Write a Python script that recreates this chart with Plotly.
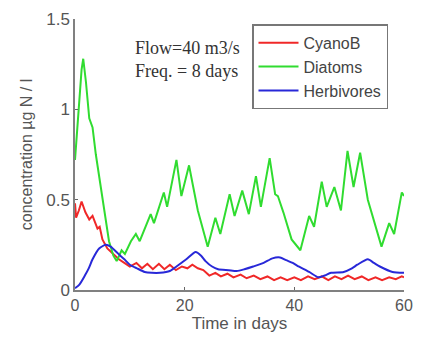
import plotly.graph_objects as go

# Diatoms (green)
t_diatoms = [0, 0.6, 1.2, 1.5, 2.0, 2.6, 3.2, 3.8, 4.4, 5.3, 6.2, 7.0, 7.6, 8.5, 9.1,
             10.2, 11.1, 11.8, 13.8, 14.4, 16.2, 16.8, 18.5, 19.4, 20.8, 21.5, 22.4,
             24.2, 25.6, 26.5, 28.2, 29.1, 30.5, 31.7, 33.0, 33.9, 35.5, 36.5, 37.0,
             38.0, 39.5, 41.1, 42.7, 43.6, 45.0, 45.9, 47.3, 48.5, 49.7, 50.8, 52.0,
             53.4, 54.5, 55.9, 57.3, 58.2, 59.6, 60]
v_diatoms = [0.72, 1.0, 1.22, 1.28, 1.15, 0.95, 0.9, 0.75, 0.63, 0.45, 0.27, 0.19, 0.16,
             0.22, 0.2, 0.27, 0.31, 0.27, 0.42, 0.37, 0.54, 0.46, 0.72, 0.52, 0.69, 0.58,
             0.44, 0.24, 0.40, 0.31, 0.53, 0.41, 0.55, 0.42, 0.63, 0.46, 0.73, 0.53, 0.52,
             0.43, 0.28, 0.22, 0.41, 0.35, 0.60, 0.46, 0.57, 0.44, 0.77, 0.57, 0.76, 0.5,
             0.38, 0.24, 0.37, 0.31, 0.54, 0.52]

# CyanoB (red)
t_cyano = [0, 0.2, 0.7, 1.2, 1.9, 2.6, 3.2, 4.1, 4.5, 5.0, 5.9, 7.0, 8.0, 9.0, 10.0,
           11.2, 12.2, 13.2, 14.2, 15.3, 16.3, 17.3, 18.4, 19.5, 20.5, 21.4, 22.4,
           23.4, 24.5, 25.6, 26.6, 27.8, 28.9, 30.2, 31.3, 32.6, 33.8, 35.1, 36.3,
           37.5, 38.7, 40.0, 41.2, 42.5, 43.7, 45.0, 46.2, 47.4, 48.6, 49.8, 51.0,
           52.3, 53.5, 54.8, 56.0, 57.3, 58.5, 59.6, 60]
v_cyano = [0.48, 0.40, 0.44, 0.49, 0.43, 0.39, 0.41, 0.34, 0.35, 0.28, 0.23, 0.2, 0.17,
           0.15, 0.13, 0.15, 0.12, 0.145, 0.115, 0.145, 0.115, 0.14, 0.11, 0.13, 0.12,
           0.14, 0.12, 0.11, 0.08, 0.095, 0.075, 0.09, 0.07, 0.085, 0.065, 0.08, 0.06,
           0.075, 0.055, 0.07, 0.055, 0.07, 0.055, 0.075, 0.06, 0.075, 0.055, 0.075,
           0.06, 0.08, 0.06, 0.075, 0.055, 0.07, 0.055, 0.07, 0.06, 0.075, 0.07]

# Herbivores (blue)
t_herb = [0, 0.8, 1.8, 2.5, 3.2, 4.4, 5.6, 6.5, 7.9, 9.0, 10.0, 11.3, 12.7, 14.0, 15.5,
          17.3, 18.5, 20.3, 22.0, 23.0, 23.8, 25.0, 26.1, 28.0, 29.5, 30.9, 32.5, 34.4,
          36.0, 37.4, 38.5, 39.7, 40.5, 42.7, 44.4, 45.5, 46.7, 49.0, 50.5, 51.5, 53.4,
          54.5, 55.6, 57.9, 60]
v_herb = [0.01, 0.03, 0.08, 0.12, 0.17, 0.23, 0.25, 0.24, 0.2, 0.17, 0.14, 0.12, 0.10,
          0.095, 0.095, 0.105, 0.13, 0.17, 0.21, 0.19, 0.16, 0.13, 0.115, 0.11, 0.105,
          0.115, 0.13, 0.15, 0.175, 0.18, 0.165, 0.15, 0.135, 0.10, 0.07, 0.08, 0.095,
          0.10, 0.12, 0.14, 0.17, 0.15, 0.13, 0.10, 0.095]

x_ticks = [0, 20, 40, 60]
y_ticks = [0, 0.5, 1, 1.5]
y_tick_text = ["0", "0.5", "1", "1.5"]

fig = go.Figure()
fig.add_trace(go.Scatter(x=t_cyano, y=v_cyano, mode="lines", name="CyanoB",
                         line=dict(color="#f02828", width=2)))
fig.add_trace(go.Scatter(x=t_diatoms, y=v_diatoms, mode="lines", name="Diatoms",
                         line=dict(color="#30dc30", width=2)))
fig.add_trace(go.Scatter(x=t_herb, y=v_herb, mode="lines", name="Herbivores",
                         line=dict(color="#2828d8", width=2, shape="spline", smoothing=0.6)))

sans = "Liberation Sans, Arial, sans-serif"
axis_font = dict(family=sans, size=17, color="#555555")
xtick_font = dict(family=sans, size=16, color="#555555")

fig.update_layout(
    width=423, height=338,
    margin=dict(l=75, r=10, t=17, b=47),
    paper_bgcolor="white", plot_bgcolor="white",
    font=axis_font,
    showlegend=True,
    legend=dict(x=0.538, y=0.98, xanchor="left", yanchor="top",
                bgcolor="white", bordercolor="#777777", borderwidth=1.5,
                font=dict(family=sans, size=16, color="#444444"),
                tracegroupgap=0, itemwidth=40),
    xaxis=dict(range=[0, 60], tickvals=x_ticks, ticks="inside", ticklen=3,
               tickcolor="#666666", showline=True, linecolor="#808080", linewidth=1.5,
               showgrid=False, zeroline=False, tickfont=xtick_font,
               ticklabeloverflow="allow",
               title=dict(text="Time in days", font=axis_font, standoff=2)),
    yaxis=dict(range=[0, 1.5], tickvals=y_ticks, ticktext=y_tick_text, ticks="inside",
               ticklen=3, tickcolor="#666666", showline=True, linecolor="#808080",
               linewidth=1.5, showgrid=False, zeroline=False, tickfont=axis_font,
               title=dict(text="concentration µg N / l",
                          font=dict(family=sans, size=16, color="#555555"), standoff=10)),
)

fig.add_annotation(xref="paper", yref="paper", x=0.176, y=0.852, xanchor="left",
                   yanchor="middle", showarrow=False, align="left",
                   text="Flow=40 m3/s<br>Freq. = 8 days",
                   font=dict(family="Liberation Serif, Times New Roman, serif", size=18,
                             color="#333333"))

fig.write_html("out.html")
